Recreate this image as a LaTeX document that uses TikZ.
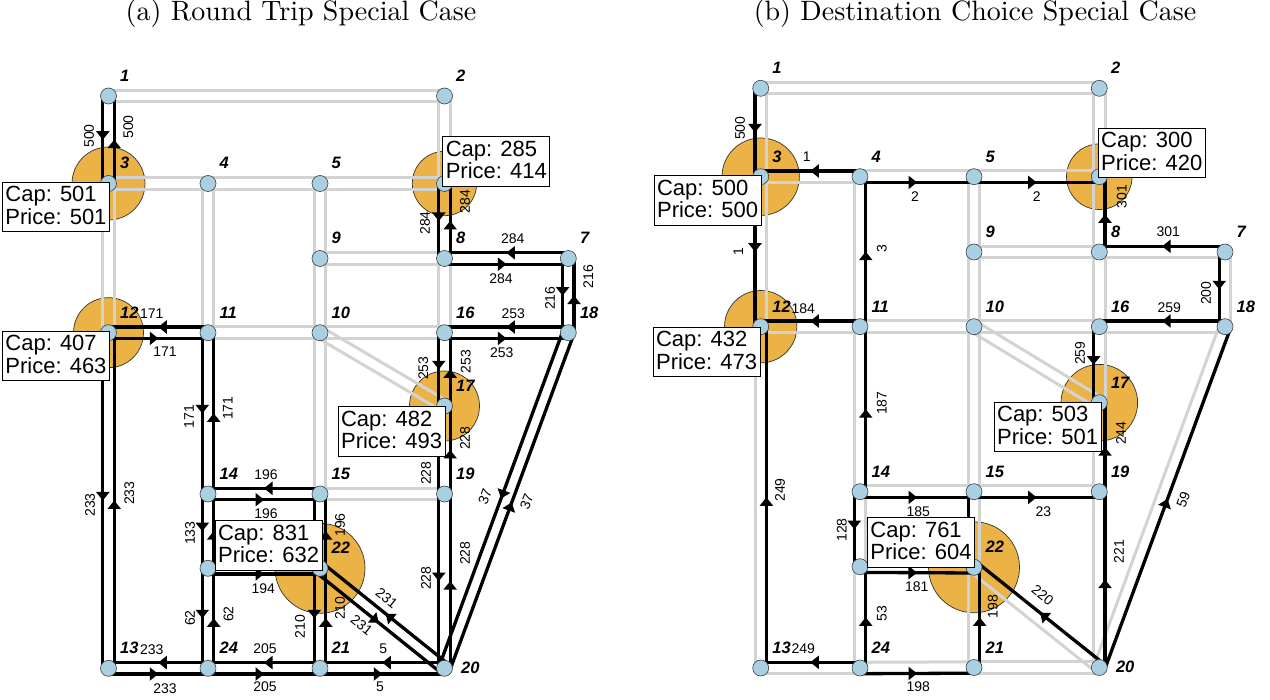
\documentclass[tikz,border=0pt]{standalone}
\usepackage{fontspec}
\newfontfamily\lsans{Liberation Sans}
\newfontfamily\lmten{lmroman10-regular.otf}
\usetikzlibrary{calc,decorations.markings}
\definecolor{lgray}{RGB}{211,211,211}
\definecolor{nodeblue}{RGB}{168,207,226}
\definecolor{facorange}{RGB}{235,178,70}
\def\off{5.7pt}
\begin{document}
\begin{tikzpicture}[x=1pt,y=-1pt,
  grayln/.style={draw=lgray, line width=3pt},
  flowln/.style={draw=black, line width=3.3pt, postaction={decorate},
    decoration={markings, mark=at position 0.5 with {\fill[black] (0pt,0pt) -- (-8.5pt,6.8pt) -- (-8.5pt,-6.8pt) -- cycle;}}},
  dot/.style={circle, fill=nodeblue, draw=black!75, line width=0.6pt, minimum size=16pt, inner sep=0pt},
  nlab/.style={font=\lsans\bfseries\itshape\fontsize{16.5}{16.5}\selectfont, anchor=base west, inner sep=0pt},
  elab/.style={font=\lsans\fontsize{14}{14}\selectfont, inner sep=0pt},
  fac/.style={circle, fill=facorange, draw=black!80, line width=0.7pt, inner sep=0pt},
  capbox/.style={draw=black, fill=white, line width=1pt, font=\lsans\fontsize{22}{22.3}\selectfont,
    align=left, inner xsep=3pt, inner ysep=4.3pt, text depth=3.4pt},
  ttl/.style={font=\lmten\fontsize{28}{32}\selectfont, anchor=base}
]
\useasboundingbox (0,0) rectangle (1270,700);

% ---------------- coordinates panel (a)
\coordinate (a1) at (108.5,96);   \coordinate (a2) at (444.5,96);
\coordinate (a3) at (108.5,183.5); \coordinate (a4) at (208,183.5);
\coordinate (a5) at (320,183.5);  \coordinate (a6) at (444.5,183.5);
\coordinate (a7) at (568.3,258.5); \coordinate (a8) at (444.5,258.5);
\coordinate (a9) at (320,258.5);  \coordinate (a10) at (320,332.7);
\coordinate (a11) at (208,332.7); \coordinate (a12) at (108.5,332.7);
\coordinate (a13) at (108.5,668.3); \coordinate (a14) at (208,494);
\coordinate (a15) at (320,494);   \coordinate (a16) at (444.5,332.7);
\coordinate (a17) at (444.5,406); \coordinate (a18) at (568.3,332.7);
\coordinate (a19) at (444.5,494); \coordinate (a20) at (444.5,668.3);
\coordinate (a21) at (320,668.3); \coordinate (a22) at (320,568.3);
\coordinate (a23) at (208,568.3); \coordinate (a24) at (208,668.3);
% ---------------- coordinates panel (b)
\coordinate (b1) at (760.7,88.3);  \coordinate (b2) at (1099.3,88.3);
\coordinate (b3) at (760.7,176.7); \coordinate (b4) at (860,176.7);
\coordinate (b5) at (974,176.7);   \coordinate (b6) at (1099.3,176.7);
\coordinate (b7) at (1225,252);    \coordinate (b8) at (1099.3,252);
\coordinate (b9) at (974,252);     \coordinate (b10) at (974,326.7);
\coordinate (b11) at (860,326.7);  \coordinate (b12) at (760.7,326.7);
\coordinate (b13) at (760.7,668);  \coordinate (b14) at (860,491.7);
\coordinate (b15) at (974,491.7);  \coordinate (b16) at (1099.3,326.7);
\coordinate (b17) at (1099.3,402.7); \coordinate (b18) at (1225,326.7);
\coordinate (b19) at (1099.3,491.7); \coordinate (b20) at (1099.3,667.5);
\coordinate (b21) at (974,667.5);  \coordinate (b22) at (974,567.3);
\coordinate (b23) at (860,566.7);  \coordinate (b24) at (860,668);

% ---------------- titles
\node[ttl] (ta) at (301,21) {(a) Round Trip Special Case};
\node[ttl] (tb) at (975,21) {(b) Destination Choice Special Case};

% ---------------- facility circles
\node[fac, minimum size=73pt] (fa3) at (a3) {};
\node[fac, minimum size=64.4pt] (fa6) at (a6) {};
\node[fac, minimum size=70pt] (fa12) at (a12) {};
\node[fac, minimum size=70pt] (fa17) at (a17) {};
\node[fac, minimum size=90pt] (fa22) at (a22) {};
\node[fac, minimum size=77.4pt] (fb3) at (b3) {};
\node[fac, minimum size=65.6pt] (fb6) at (b6) {};
\node[fac, minimum size=72.4pt] (fb12) at (b12) {};
\node[fac, minimum size=76.6pt] (fb17) at (b17) {};
\node[fac, minimum size=91pt] (fb22) at (b22) {};

% ---------------- gray arcs
\foreach \u/\v in {1/2,2/1,2/6,6/2,3/4,4/3,3/12,12/3,4/5,5/4,4/11,11/4,5/6,6/5,5/9,9/5,8/9,9/8,8/16,16/8,9/10,10/9,10/11,11/10,10/15,15/10,10/16,16/10,10/17,17/10,15/19,19/15}
  {\draw[grayln] ($(a\u)!\off!-90:(a\v)$) -- ($(a\v)!\off!90:(a\u)$);}
\foreach \u/\v in {1/2,2/1,2/6,6/2,5/9,9/5,8/9,9/8,8/16,16/8,9/10,10/9,10/11,11/10,10/15,15/10,10/16,16/10,10/17,17/10,20/21,21/20,3/1,12/3,3/4,5/4,6/5,6/8,8/7,18/7,16/18,17/16,12/11,4/11,11/14,12/13,13/24,23/14,15/14,22/23,23/24,21/24,19/15,22/15,22/21,22/20,19/20,17/19,18/20}
  {\draw[grayln] ($(b\u)!\off!-90:(b\v)$) -- ($(b\v)!\off!90:(b\u)$);}

% ---------------- flow arcs
\foreach \u/\v in {1/3,3/1,6/8,8/6,8/7,7/8,7/18,18/7,18/16,16/18,16/17,17/16,17/19,19/17,19/20,20/19,12/11,11/12,11/14,14/11,12/13,13/12,13/24,24/13,14/15,15/14,15/22,22/15,14/23,23/14,23/22,22/23,23/24,24/23,24/21,21/24,22/21,21/22,22/20,20/22,21/20,20/21,18/20,20/18}
  {\draw[flowln] ($(a\u)!\off!-90:(a\v)$) -- ($(a\v)!\off!90:(a\u)$);}
\foreach \u/\v in {1/3,3/12,4/3,4/5,5/6,8/6,7/8,7/18,18/16,16/17,11/12,11/4,14/11,13/12,24/13,14/23,14/15,23/22,24/23,24/21,15/19,15/22,21/22,20/22,20/19,19/17,20/18}
  {\draw[flowln] ($(b\u)!\off!-90:(b\v)$) -- ($(b\v)!\off!90:(b\u)$);}

% ---------------- node dots and numbers
\foreach \i in {1,...,24} {\node[dot] (da\i) at (a\i) {}; \node[dot] (db\i) at (b\i) {};}
\foreach \i in {1,...,19,21,22,23,24} {
  \node[nlab] (na\i) at ($(a\i)+(11.5,-14.5)$) {\i};
  \node[nlab] (nb\i) at ($(b\i)+(11.5,-14.5)$) {\i};}
\node[nlab] (na20) at ($(a20)+(16.5,5)$) {20};
\node[nlab] (nb20) at ($(b20)+(16.5,5)$) {20};

% ---------------- flow labels (a)
\node[elab,rotate=90] (la1) at (89,136) {500};
\node[elab,rotate=90] (la2) at (128.3,127) {500};
\node[elab,rotate=90] (la3) at (425,223) {284};
\node[elab,rotate=90] (la4) at (465,201.7) {284};
\node[elab] (la5) at (512.8,239) {284};
\node[elab] (la6) at (501,278.3) {284};
\node[elab,rotate=90] (la7) at (550,298.3) {216};
\node[elab,rotate=90] (la8) at (588.3,276.7) {216};
\node[elab] (la9) at (513.3,313.3) {253};
\node[elab] (la10) at (501.7,352.7) {253};
\node[elab,rotate=90] (la11) at (423.3,368.3) {253};
\node[elab,rotate=90] (la12) at (465.7,361.7) {253};
\node[elab,rotate=90] (la13) at (426,473.3) {228};
\node[elab,rotate=90] (la14) at (465,438.3) {228};
\node[elab,rotate=90] (la15) at (426,578.3) {228};
\node[elab,rotate=90] (la16) at (465,553.3) {228};
\node[elab] (la17) at (151.7,313.3) {171};
\node[elab] (la18) at (165,351.7) {171};
\node[elab,rotate=90] (la19) at (189,416.7) {171};
\node[elab,rotate=90] (la20) at (227.7,408.3) {171};
\node[elab,rotate=90] (la21) at (90,505) {233};
\node[elab,rotate=90] (la22) at (129.3,493.3) {233};
\node[elab] (la23) at (151.7,649.3) {233};
\node[elab] (la24) at (165,688.3) {233};
\node[elab] (la25) at (266,474.3) {196};
\node[elab] (la26) at (266,514) {196};
\node[elab,rotate=90] (la27) at (340,525) {196};
\node[elab,rotate=90] (la28) at (190,533.3) {133};
\node[elab] (la29) at (263.3,588.3) {194};
\node[elab,rotate=90] (la30) at (190,618) {62};
\node[elab,rotate=90] (la31) at (228.5,614) {62};
\node[elab] (la32) at (265,648.3) {205};
\node[elab] (la33) at (265,686.7) {205};
\node[elab,rotate=90] (la34) at (300,626.7) {210};
\node[elab,rotate=90] (la35) at (340,608.3) {210};
\node[elab,rotate=-38.8] (la36) at (361.7,625) {231};
\node[elab,rotate=-38.8] (la37) at (386.7,598.3) {231};
\node[elab] (la38) at (383.3,648.3) {5};
\node[elab] (la39) at (380,686.7) {5};
\node[elab,rotate=69.75] (la40) at (485,496.7) {37};
\node[elab,rotate=69.75] (la41) at (526.7,501.7) {37};

% ---------------- flow labels (b)
\node[elab,rotate=90] (lb1) at (740,128.3) {500};
\node[elab,rotate=90] (lb2) at (738.3,251.7) {1};
\node[elab] (lb3) at (806.7,156.7) {1};
\node[elab] (lb4) at (915,196.7) {2};
\node[elab] (lb5) at (1036.7,196.7) {2};
\node[elab,rotate=90] (lb6) at (1121.7,196.7) {301};
\node[elab] (lb7) at (1168.3,231.7) {301};
\node[elab,rotate=90] (lb8) at (1206,293.3) {200};
\node[elab] (lb9) at (1169.3,307.7) {259};
\node[elab,rotate=90] (lb10) at (1080,353.3) {259};
\node[elab] (lb11) at (803.3,308.3) {184};
\node[elab,rotate=90] (lb12) at (881.7,248.3) {3};
\node[elab,rotate=90] (lb13) at (881.7,403.3) {187};
\node[elab,rotate=90] (lb14) at (780,490) {249};
\node[elab] (lb15) at (803.3,648.3) {249};
\node[elab,rotate=90] (lb16) at (841.7,530) {128};
\node[elab] (lb17) at (918.3,511.7) {185};
\node[elab] (lb18) at (916.7,586.7) {181};
\node[elab,rotate=90] (lb19) at (881.7,613.3) {53};
\node[elab] (lb20) at (918.3,686.7) {198};
\node[elab] (lb21) at (1043.3,511.7) {23};
\node[elab,rotate=90] (lb22) at (992.7,606.7) {198};
\node[elab,rotate=-38.6] (lb23) at (1042.7,595) {220};
\node[elab,rotate=90] (lb24) at (1119,551.7) {221};
\node[elab,rotate=90] (lb25) at (1121,433.3) {244};
\node[elab,rotate=69.75] (lb26) at (1183.3,500) {59};

% ---------------- capacity boxes
\node[capbox,anchor=north east] (ca3) at (110,181.7) {Cap: 501\\Price: 501};
\node[capbox,anchor=south west] (ca6) at (442.3,186.7) {Cap: 285\\Price: 414};
\node[capbox,anchor=north east] (ca12) at (110,330.7) {Cap: 407\\Price: 463};
\node[capbox,anchor=north east] (ca17) at (445.7,406) {Cap: 482\\Price: 493};
\node[capbox,anchor=south east] (ca22) at (322.7,570.7) {Cap: 831\\Price: 632};
\node[capbox,anchor=north east] (cb3) at (761.7,175) {Cap: 500\\Price: 500};
\node[capbox,anchor=south west] (cb6) at (1097.7,178.3) {Cap: 300\\Price: 420};
\node[capbox,anchor=north east] (cb12) at (760.7,326.7) {Cap: 432\\Price: 473};
\node[capbox,anchor=north east] (cb17) at (1101.7,401.7) {Cap: 503\\Price: 501};
\node[capbox,anchor=south east] (cb22) at (975,568) {Cap: 761\\Price: 604};
\end{tikzpicture}
\end{document}
